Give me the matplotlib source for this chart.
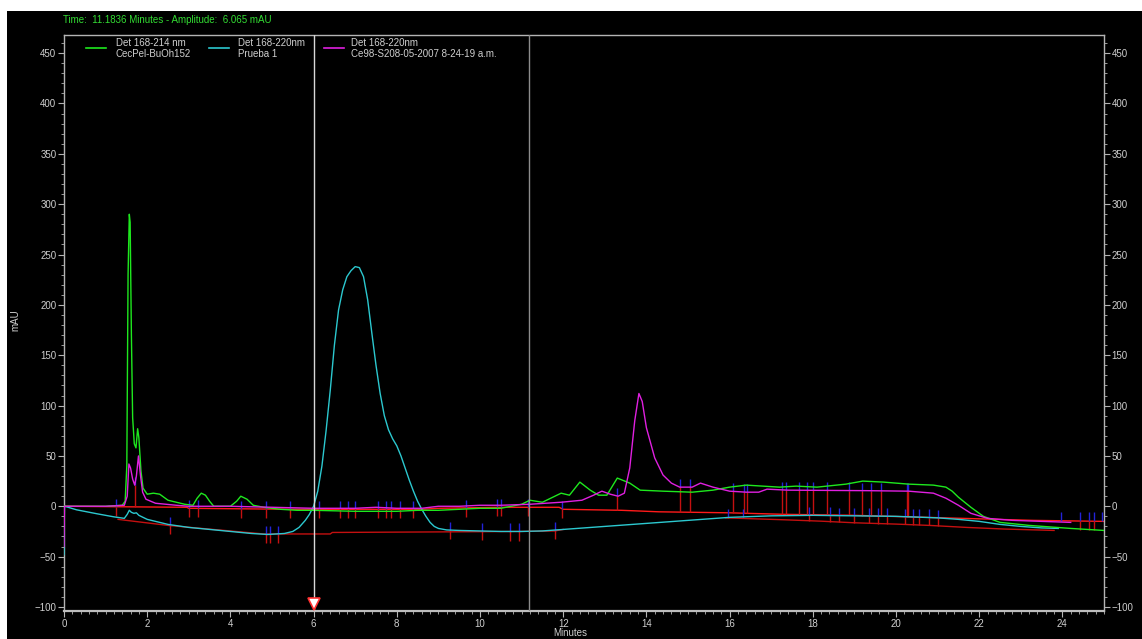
import numpy as np
import matplotlib.pyplot as plt
from matplotlib.patches import Rectangle
from matplotlib.ticker import MultipleLocator

# chromatogram traces (minutes, mAU)
green_t = [0, 0.5, 1.0, 1.4, 1.47, 1.51, 1.54, 1.57, 1.59, 1.62, 1.65, 1.69, 1.73, 1.77, 1.8,
           1.85, 1.9, 2.0, 2.15, 2.3, 2.5, 2.7, 2.9, 3.1, 3.2, 3.3, 3.4, 3.5, 3.6, 4.0, 4.15,
           4.25, 4.4, 4.55, 4.8, 5.2, 5.6, 6.0, 7.0, 8.0, 8.5, 9.0, 9.5, 10.0, 10.5, 11.0,
           11.2, 11.5, 11.8, 11.95, 12.15, 12.4, 12.65, 12.85, 13.05, 13.3, 13.6, 13.85, 14.4,
           15.1, 15.6, 16.0, 16.4, 17.2, 17.6, 18.1, 18.8, 19.2, 19.7, 20.3, 20.9, 21.2, 21.35,
           21.5, 21.8, 22.1, 22.5, 23.2, 24.2, 25.0]
green_v = [0, 0, 0, 1, 5, 40, 230, 290, 282, 170, 88, 62, 58, 77, 68,
           35, 18, 12, 13, 12, 6, 4, 2, 1, 8, 13, 11, 5, 0, 0, 5,
           10, 7, 1, -1, -3, -4, -4, -5, -5, -4, -4, -3, -2, -2, 2,
           6, 4, 10, 13, 11, 24, 16, 11, 11, 28, 23, 16, 15,
           14, 16, 19, 21, 19, 20, 19, 22, 25, 24, 22, 21, 19, 15,
           9, -1, -10, -16, -19, -22, -24]

cyan_t = [0, 0.01, 0.1, 0.3, 0.8, 1.2, 1.45, 1.52, 1.57, 1.62, 1.68, 1.74, 1.8, 1.9, 2.0,
          2.5, 3.0, 3.5, 4.0, 4.5, 4.9, 5.3, 5.5, 5.65, 5.8, 5.9, 6.0, 6.1, 6.2, 6.3, 6.4,
          6.5, 6.6, 6.7, 6.8, 6.9, 7.0, 7.1, 7.2, 7.3, 7.4, 7.5, 7.6, 7.7, 7.8, 7.9, 8.0,
          8.1, 8.2, 8.3, 8.4, 8.5, 8.6, 8.7, 8.8, 8.9, 9.0, 9.2, 9.5, 10.0, 10.5, 11.0, 11.5,
          12.0, 12.5, 13.0, 14.0, 15.0, 16.0, 17.0, 18.0, 19.0, 20.0, 21.0, 21.5, 22.0, 22.5,
          23.0, 23.5, 23.9]
cyan_v = [-48, 0, -1, -3.5, -7.5, -10.5, -12, -8, -4, -6, -7, -6.5, -9, -11, -13,
          -18, -21, -23, -25, -27, -28, -27, -25, -21, -14, -8, 0, 15, 40, 75, 115,
          160, 195, 215, 228, 234, 238, 237, 228, 205, 172, 140, 112, 90, 76, 67, 60,
          50, 38, 26, 15, 5, -3, -10, -16, -20, -22, -23.5, -24, -24.5, -25, -25, -24.5,
          -23, -21.5, -20, -17, -14, -11, -9.5, -9, -9.5, -10, -11.5, -13, -15, -18,
          -20, -21.5, -22]

magenta_t = [0, 0.01, 0.5, 1.0, 1.45, 1.52, 1.56, 1.6, 1.65, 1.7, 1.74, 1.79, 1.84, 1.89,
             1.97, 2.2, 2.7, 3.0, 4.0, 5.0, 6.0, 7.0, 7.5, 8.0, 8.6, 9.0, 9.5, 10.0, 10.5,
             11.2, 11.95, 12.45, 12.73, 12.93, 13.13, 13.32, 13.47, 13.6, 13.72, 13.82, 13.9,
             14.0, 14.2, 14.4, 14.6, 14.8, 15.1, 15.3, 15.6, 16.0, 16.4, 16.7, 16.9, 17.4,
             19.3, 20.3, 20.9, 21.2, 21.5, 21.8, 22.2, 22.8, 24.2]
magenta_v = [-40, 0, 0, 0, 1, 10, 42, 38, 27, 21, 30, 50, 30, 14,
             7, 3, 1, 0, 0, -1, -2, -2, -1, -2, -2, 0, 0, 1, 1,
             2, 4, 6, 11, 15, 12, 10, 13, 38, 85, 112, 104,
             78, 48, 31, 23, 19, 19, 23, 19, 15, 14, 14, 17, 16,
             15.5, 15, 13, 8, 1, -7, -12, -14, -16]

# integration baselines
base_a_t = [0, 1.4, 2.95, 3.0, 5.5, 8.6, 9.0, 10.5, 11.9, 12.0, 13.4, 14.3, 16.0, 17.3,
            19.0, 20.3, 21.6, 23.3, 25.0]
base_a_v = [0, -0.5, -1, -2, -3, -3, -2, -1, -1, -3, -4, -5.5, -6.5, -8,
            -9, -10.5, -12, -14, -15]
base_b_t = [1.3, 2.5, 4.8, 6.4, 6.45, 8.8, 11.0, 11.8, 12.0]
base_b_v = [-13, -19, -27.5, -27.5, -26, -25.5, -25, -24.5, -23]
base_c_t = [15.9, 17.3, 18.2, 19.0, 20.0, 20.8, 21.7, 22.6, 23.8]
base_c_v = [-11.5, -13.4, -14.8, -16.4, -17.7, -19, -21, -22.6, -24]

# peak start/end events
events_a = [1.25, 3.01, 3.23, 4.26, 4.86, 5.43, 6.12, 6.63, 6.82, 7.0, 7.56, 7.74, 7.85,
            8.08, 8.39, 9.66, 10.41, 10.51, 11.15, 11.98]
events_b = [2.55, 4.85, 4.95, 5.15, 9.28, 10.05, 10.71, 10.94, 11.8]
drops_magenta = [1.7, 13.3, 14.81, 15.04, 16.08, 16.35, 16.42, 17.27, 17.36, 17.67, 17.85,
                 18.01, 18.34, 18.86, 19.19, 19.39, 19.64, 20.26, 20.3]
drops_cyan = [15.96, 16.33, 17.91, 18.41, 18.63, 18.99, 19.34, 19.57, 19.79, 20.21, 20.41,
              20.55, 20.8, 21.02]
drops_end = [24.43, 24.63, 24.75]
events_end = [23.96, 24.43, 24.63, 24.75, 24.95]

cursor_t = 6.0
marker_t = 11.1836
header = "Time:  11.1836 Minutes - Amplitude:  6.065 mAU"
legend_rows = [("Det 168-214 nm", "CecPel-BuOh152"),
               ("Det 168-220nm", "Prueba 1"),
               ("Det 168-220nm", "Ce98-S208-05-2007 8-24-19 a.m.")]

GREEN = "#1ee81e"
CYAN = "#2cc8cf"
MAGENTA = "#e020e0"
RED = "#ff1a1a"
DARKRED = "#c41010"
BLUE = "#2323d8"
TXT = "#cfcfcf"
FONT = "Liberation Sans"

W, H = 1142, 639
fig = plt.figure(figsize=(W / 100, H / 100), dpi=100, facecolor="white")
fig.patches.append(Rectangle((7 / W, 0), 1, 1 - 11 / H, transform=fig.transFigure,
                             facecolor="black", edgecolor="none", zorder=-5))

ax = fig.add_axes([64 / W, 1 - 611 / H, 1040 / W, 576 / H])
ax.set_zorder(2)
ax.set_facecolor("black")
ax.set_xlim(0, 25)
ax.set_ylim(-104, 468)

# baselines
ax.plot(base_a_t, base_a_v, color=RED, lw=1, zorder=2)
ax.plot(base_b_t, base_b_v, color=DARKRED, lw=1, zorder=2)
ax.plot(base_c_t, base_c_v, color=DARKRED, lw=1, zorder=2)

# event ticks
ya = np.interp(events_a, base_a_t, base_a_v)
ax.vlines(events_a, ya, ya + 8, color=BLUE, lw=1, zorder=3)
ax.vlines(events_a, ya - 9, ya, color=DARKRED, lw=1, zorder=3)
yb = np.interp(events_b, cyan_t, cyan_v)
ax.vlines(events_b, yb - 1, yb + 8, color=BLUE, lw=1, zorder=3)
ax.vlines(events_b, yb - 9, yb, color=DARKRED, lw=1, zorder=3)

ym = np.interp(drops_magenta, magenta_t, magenta_v)
yam = np.interp(drops_magenta, base_a_t, base_a_v)
ax.vlines(drops_magenta, yam, ym, color=DARKRED, lw=1, zorder=3)
ax.vlines(drops_magenta, ym, ym + 8, color=BLUE, lw=1, zorder=3)

yc = np.interp(drops_cyan, cyan_t, cyan_v)
ycb = np.interp(drops_cyan, base_c_t, base_c_v)
ax.vlines(drops_cyan, ycb, yc, color=DARKRED, lw=1, zorder=3)
ax.vlines(drops_cyan, yc, yc + 8, color=BLUE, lw=1, zorder=3)

ye = np.interp(events_end, base_a_t, base_a_v)
ax.vlines(events_end, ye, ye + 9, color=BLUE, lw=1, zorder=3)
yd = np.interp(drops_end, base_a_t, base_a_v)
ax.vlines(drops_end, yd - 9, yd, color=DARKRED, lw=1, zorder=3)

# traces
ax.plot(cyan_t, cyan_v, color=CYAN, lw=1, zorder=4)
ax.plot(green_t, green_v, color=GREEN, lw=1, zorder=5)
ax.plot(magenta_t, magenta_v, color=MAGENTA, lw=1, zorder=6)

# cursors
ax.axvline(cursor_t, color="#d8d8d8", lw=1, zorder=7)
ax.axvline(marker_t, color="#8c8c8c", lw=1, zorder=7)
ax.plot([cursor_t], [-97], marker="v", ms=9, mfc="white", mec="#ff3030", mew=1.2,
        zorder=8, clip_on=False)

# axes styling
for side in ["top", "right", "left"]:
    ax.spines[side].set_color("#b4b4b4")
    ax.spines[side].set_linewidth(1)
ax.spines["bottom"].set_color("#bdbdbd")
ax.spines["bottom"].set_linewidth(1.6)

ax.xaxis.set_major_locator(MultipleLocator(2))
ax.xaxis.set_minor_locator(MultipleLocator(0.2))
ax.yaxis.set_major_locator(MultipleLocator(50))
ax.yaxis.set_minor_locator(MultipleLocator(10))
ax.tick_params(which="both", colors="#b4b4b4", labelcolor=TXT, labelsize=7,
               right=True, labelright=True, direction="out")
ax.tick_params(which="major", length=4, pad=1.5)
ax.tick_params(which="minor", length=2)
for lab in ax.get_xticklabels() + ax.get_yticklabels():
    lab.set_fontfamily(FONT)

fig.text(15 / W, 1 - 320 / H, "mAU", color=TXT, fontsize=7, fontfamily=FONT,
         rotation=90, ha="center", va="center")
fig.text(570 / W, 0.5 / H, "Minutes", color=TXT, fontsize=7, fontfamily=FONT,
         ha="center", va="bottom")

fig.text(63 / W, 1 - 20 / H, header, color="#33dd33", fontsize=7, fontfamily=FONT,
         va="center")

# legend
colors = [GREEN, CYAN, MAGENTA]
sample_x = [(86, 106), (209, 229), (324, 344)]
text_x = [116, 238, 351]
for (x0, x1), tx, c, (l1, l2) in zip(sample_x, text_x, colors, legend_rows):
    fig.add_artist(plt.Line2D([x0 / W, x1 / W], [1 - 48 / H] * 2, color=c, lw=1.2,
                              transform=fig.transFigure, zorder=5))
    t1 = fig.text(tx / W, 1 - 43 / H, l1, color=TXT, fontsize=7, fontfamily=FONT, va="center")
    t2 = fig.text(tx / W, 1 - 54 / H, l2, color=TXT, fontsize=7, fontfamily=FONT, va="center")
    t1.set_zorder(5)
    t2.set_zorder(5)

fig.savefig("out.png", dpi=100, facecolor=fig.get_facecolor())
